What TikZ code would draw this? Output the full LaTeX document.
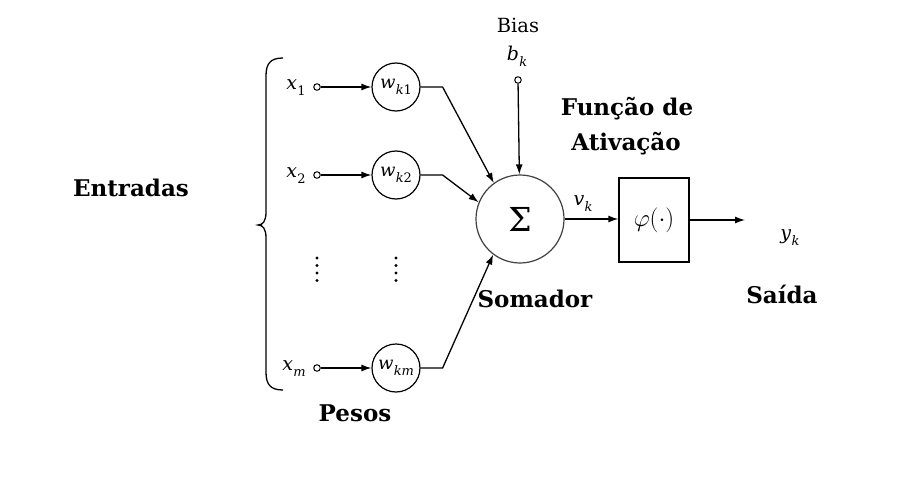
\documentclass[tikz,border=0pt]{standalone}
\usepackage{fontspec}
\newfontfamily\labfont{DejaVu Serif}
\usetikzlibrary{arrows.meta}
\newcommand\ivar[2]{\textit{#1}\kern0.3pt\raisebox{-0.32em}{\fontsize{13}{13}\selectfont #2}}
\begin{document}
\begin{tikzpicture}[x=1pt,y=-1pt,
  conn/.style={line width=1.3pt},
  arr/.style={conn,-{Latex[length=10pt,width=7pt]}},
  port/.style={circle,draw,line width=1pt,inner sep=0pt,minimum size=6.5pt},
  wcirc/.style={circle,draw,line width=1.2pt,inner sep=0pt,minimum size=48pt,font=\labfont\fontsize{18}{20}\selectfont},
  sumc/.style={circle,draw=black!75,line width=1.2pt,inner sep=0pt,minimum size=88pt,font=\labfont\fontsize{33}{35}\selectfont},
  boxc/.style={draw,line width=1.3pt,minimum width=70pt,minimum height=84pt,inner sep=0pt,font=\fontsize{23}{25}\selectfont},
  mlab/.style={inner sep=0pt,font=\labfont\fontsize{19}{21}\selectfont},
  blab/.style={inner sep=0pt,font=\labfont\bfseries\fontsize{23}{27}\selectfont,align=center},
  rlab/.style={inner sep=0pt,font=\labfont\fontsize{19.5}{21}\selectfont},
  dotc/.style={circle,fill,inner sep=0pt,minimum size=3.2pt}
]
\useasboundingbox (0,0) rectangle (903,487);
\fill[white] (0,0) rectangle (903,487);

% inputs
\node[port] (x1p) at (317,87) {};
\node[port] (x2p) at (317,175) {};
\node[port] (xmp) at (317,368) {};
\node[mlab] (x1) at (296,88) {\ivar{x}{1}};
\node[mlab] (x2) at (296,176) {\ivar{x}{2}};
\node[mlab] (xm) at (294,369) {\ivar{x}{\textit{m}}};

% weights
\node[wcirc] (w1) at (396,87) {\ivar{w}{\textit{k}1}};
\node[wcirc] (w2) at (396,175) {\ivar{w}{\textit{k}2}};
\node[wcirc] (wm) at (396,368) {\ivar{w}{\textit{km}}};

\draw[arr] (x1p) -- (w1);
\draw[arr] (x2p) -- (w2);
\draw[arr] (xmp) -- (wm);

% dots
\foreach \yy [count=\i] in {258,265.5,273,280.5}{
  \node[dotc] (da\i) at (317,\yy) {};
  \node[dotc] (db\i) at (396,\yy) {};
}

% summing junction
\node[sumc] (S) at (520,219) {Σ};
\draw[arr] (w1.east) -- ++(22,0) -- (S.126);
\draw[arr] (w2.east) -- ++(22,0) -- (S.158);
\draw[arr] (wm.east) -- ++(22,0) -- (S.233);

% bias
\node[rlab] (bias) at (518,25) {Bias};
\node[mlab] (bk) at (517,56) {\ivar{b}{\textit{k}}};
\node[port] (bp) at (518,80) {};
\draw[arr] (bp) -- (S);

% activation
\node[boxc] (phi) at (654,220) {$\varphi(\cdot)$};
\draw[arr] (S.east) -- (S.east -| phi.west);
\node[mlab] (vk) at (583,204) {\ivar{v}{\textit{k}}};
\coordinate (yend) at (745,220);
\draw[arr] (phi.east) -- (yend);
\node[mlab] (yk) at (790,238) {\ivar{y}{\textit{k}}};

% brace
\draw[conn] (283,58) .. controls (270,58) and (266,64) .. (266,76)
  -- (266,212) .. controls (266,221) and (263,225) .. (258,225)
  .. controls (263,225) and (266,229) .. (266,238)
  -- (266,372) .. controls (266,384) and (270,390) .. (283,390);

% labels
\node[blab] (ent) at (131,188) {Entradas};
\node[blab] (pes) at (355,413) {Pesos};
\node[blab] (som) at (535,299) {Somador};
\node[blab] (fun) at (627,109) {Função de};
\node[blab] (ati) at (626,144) {Ativação};
\node[blab] (sai) at (782,294) {Saída};
\end{tikzpicture}
\end{document}
